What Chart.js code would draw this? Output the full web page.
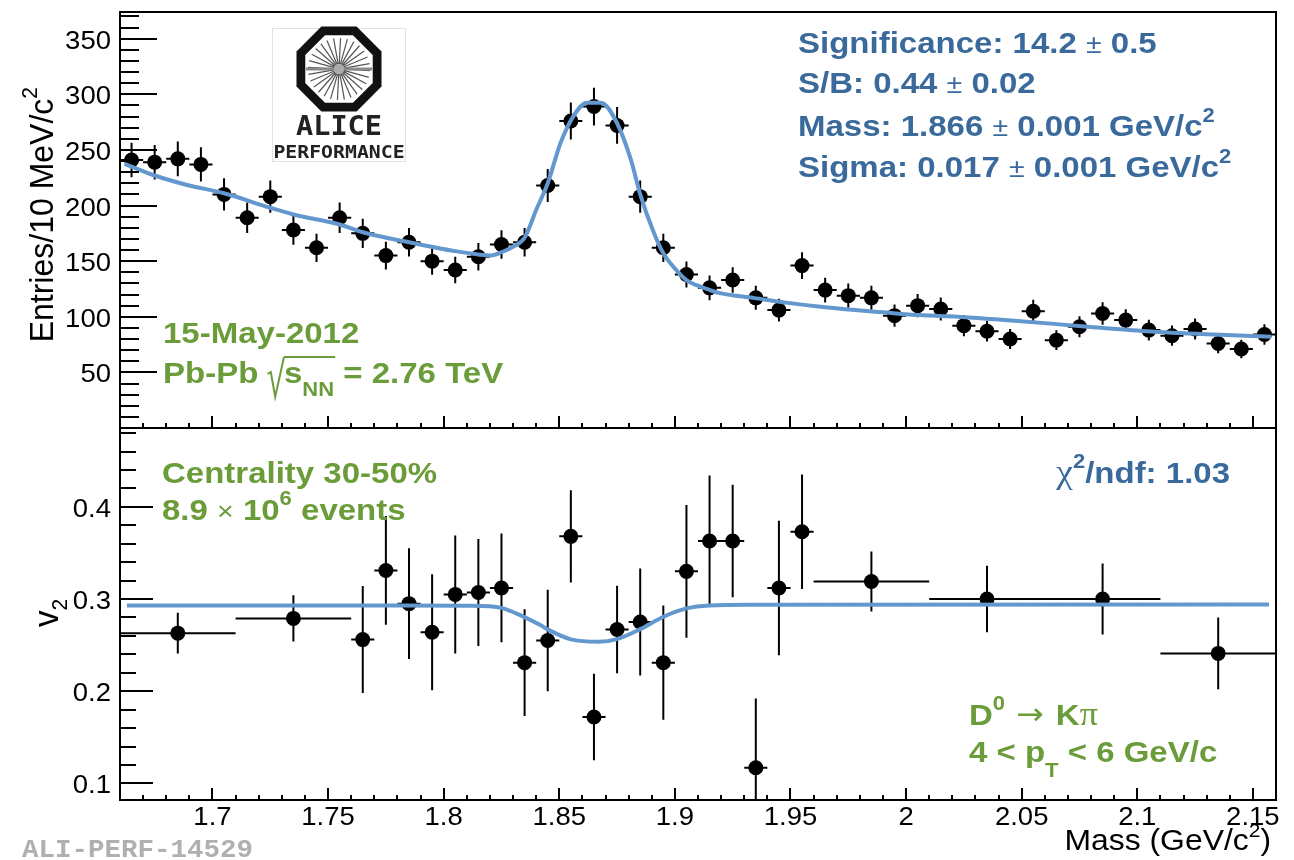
<!DOCTYPE html>
<html lang="en">
<head>
  <meta charset="UTF-8" />
  <title>D0 invariant mass and v2</title>
  <script src="https://cdn.jsdelivr.net/npm/chart.js"></script>
  <style>
    html, body { margin: 0; padding: 0; background: #fff; }
    #wrap { position: relative; width: 1294px; height: 860px; }
    #wrap canvas { position: absolute; left: 0; top: 0; }
  </style>
</head>
<body>
  <div id="wrap">
    <canvas id="cMass" width="1294" height="860"></canvas>
    <canvas id="cV2" width="1294" height="860"></canvas>
  </div>

  <script>
    // ---- upper panel: invariant mass, 10 MeV bins ----
    const massBins = [1.665, 1.675, 1.685, 1.695, 1.705, 1.715, 1.725, 1.735, 1.745, 1.755,
                      1.765, 1.775, 1.785, 1.795, 1.805, 1.815, 1.825, 1.835, 1.845, 1.855,
                      1.865, 1.875, 1.885, 1.895, 1.905, 1.915, 1.925, 1.935, 1.945, 1.955,
                      1.965, 1.975, 1.985, 1.995, 2.005, 2.015, 2.025, 2.035, 2.045, 2.055,
                      2.065, 2.075, 2.085, 2.095, 2.105, 2.115, 2.125, 2.135, 2.145, 2.155];
    const entries = [241, 239, 242, 237, 210, 189, 208, 178, 162, 189,
                     175, 155, 167, 150, 142, 154, 165, 167, 218, 276,
                     289, 272, 208, 162, 138, 126, 133, 117, 106, 146,
                     124, 119, 117, 101, 110, 107, 92, 87, 80, 105,
                     79, 91, 103, 97, 88, 83, 89, 76, 71, 84];
    const entriesErr = [15.5, 15.5, 15.6, 15.4, 14.5, 13.7, 14.4, 13.3, 12.7, 13.7,
                        13.2, 12.4, 12.9, 12.2, 11.9, 12.4, 12.8, 12.9, 14.8, 16.6,
                        17.0, 16.5, 14.4, 12.7, 11.7, 11.2, 11.5, 10.8, 10.3, 12.1,
                        11.1, 10.9, 10.8, 10.0, 10.5, 10.3, 9.6, 9.3, 8.9, 10.2,
                        8.9, 9.5, 10.1, 9.8, 9.4, 9.1, 9.4, 8.7, 8.4, 9.2];
    const massHalfWidth = 0.005;

    // fitted signal + background curve
    const fitMass = [1.662, 1.675, 1.689, 1.705, 1.725, 1.735, 1.755, 1.765, 1.785, 1.805,
                     1.815, 1.820, 1.825, 1.830, 1.835, 1.840, 1.845, 1.8505, 1.856, 1.862,
                     1.868, 1.875, 1.881, 1.885, 1.891, 1.895, 1.901, 1.905, 1.9125, 1.920,
                     1.934, 1.949, 1.963, 1.978, 1.990, 2.006, 2.018, 2.047, 2.076, 2.104,
                     2.133, 2.158];
    const fitEntries = [237.5, 227, 218.5, 211, 198, 192, 183, 176, 167, 159,
                        156, 155, 158, 163, 171, 196, 220, 256, 280, 292.5,
                        292.5, 274, 241, 210, 175, 157, 141, 133, 126, 121,
                        117, 112.5, 109, 106, 104, 101.5, 100.5, 96.5, 91.5, 87,
                        84, 82];

    // ---- lower panel: v2 vs mass, variable bins ----
    const v2Mass = [1.685, 1.735, 1.765, 1.775, 1.785, 1.795, 1.805, 1.815, 1.825, 1.835,
                    1.845, 1.855, 1.865, 1.875, 1.885, 1.895, 1.905, 1.915, 1.925, 1.935,
                    1.945, 1.955, 1.985, 2.035, 2.085, 2.135];
    const v2HalfWidth = [0.025, 0.025, 0.005, 0.005, 0.005, 0.005, 0.005, 0.005, 0.005, 0.005,
                         0.005, 0.005, 0.005, 0.005, 0.005, 0.005, 0.005, 0.005, 0.005, 0.005,
                         0.005, 0.005, 0.025, 0.025, 0.025, 0.025];
    const v2Val = [0.263, 0.279, 0.256, 0.331, 0.295, 0.264, 0.305, 0.307, 0.312, 0.231,
                   0.255, 0.368, 0.172, 0.267, 0.275, 0.231, 0.330, 0.363, 0.363, 0.117,
                   0.312, 0.373, 0.319, 0.300, 0.300, 0.241];
    const v2Err = [0.022, 0.025, 0.058, 0.059, 0.060, 0.063, 0.064, 0.058, 0.059, 0.058,
                   0.055, 0.050, 0.047, 0.0475, 0.058, 0.062, 0.072, 0.071, 0.061, 0.075,
                   0.073, 0.062, 0.0325, 0.036, 0.0385, 0.039];

    const v2FitMass = [1.663, 1.780, 1.810, 1.820, 1.825, 1.8335, 1.8418, 1.845, 1.855, 1.867,
                       1.875, 1.885, 1.895, 1.905, 1.915, 1.934, 2.157];
    const v2FitVal = [0.293, 0.293, 0.2928, 0.2922, 0.2904, 0.282, 0.2717, 0.267, 0.2562, 0.2536,
                      0.2565, 0.2673, 0.2807, 0.2898, 0.293, 0.2937, 0.294];

    // ---- axis ticks ----
    const massTicks = [1.7, 1.75, 1.8, 1.85, 1.9, 1.95, 2, 2.05, 2.1, 2.15];
    const massTickLabels = ['1.7', '1.75', '1.8', '1.85', '1.9', '1.95', '2', '2.05', '2.1', '2.15'];
    const entriesTicks = [50, 100, 150, 200, 250, 300, 350];
    const v2Ticks = [0.1, 0.2, 0.3, 0.4];
    const v2TickLabels = ['0.1', '0.2', '0.3', '0.4'];

    const BLUE_TXT = '#3a6a9c';
    const GREEN_TXT = '#6b9c3a';
    const FIT_BLUE = '#6398cf';
    const SANS = '"Liberation Sans", Arial, Helvetica, sans-serif';
    const SERIF = '"Liberation Serif", "DejaVu Serif", serif';
    const MONO = '"Liberation Mono", "Courier New", monospace';
    const ARROW = '"DejaVu Sans", sans-serif';
    const SX = 1.1; // text is a bit wide in this style

    function fontStr(s) {
      return (s.b ? 'bold ' : '') + s.size + 'px ' + (s.fam || SANS);
    }

    // draws a run of text pieces (sub/superscripts, symbols) on one baseline
    function drawRich(ctx, x, y, segs, opt) {
      opt = opt || {};
      ctx.save();
      ctx.translate(x, y);
      ctx.scale(opt.sx || SX, 1);
      if (opt.rot) ctx.rotate(-Math.PI / 2);
      let w = 0;
      segs.forEach(s => {
        if (s.rad) { w += s.rad; return; }
        if (s.gap) { w += s.gap; return; }
        ctx.font = fontStr(s);
        w += ctx.measureText(s.t).width;
      });
      let cx = opt.align === 'right' ? -w : opt.align === 'center' ? -w / 2 : 0;
      ctx.fillStyle = opt.color || '#000';
      ctx.strokeStyle = opt.color || '#000';
      ctx.textBaseline = 'alphabetic';
      ctx.textAlign = 'left';
      let overStart = null, overEnd = null;
      segs.forEach(s => {
        if (s.gap) { cx += s.gap; return; }
        if (s.rad) {
          ctx.lineWidth = 1.8;
          ctx.beginPath();
          ctx.moveTo(cx, -9);
          ctx.lineTo(cx + 3, -11);
          ctx.lineTo(cx + 7, 14);
          ctx.lineTo(cx + s.rad, -26);
          ctx.stroke();
          overStart = cx + s.rad;
          cx += s.rad;
          return;
        }
        ctx.font = fontStr(s);
        ctx.fillText(s.t, cx, s.dy || 0);
        const adv = ctx.measureText(s.t).width;
        if (s.over) overEnd = cx + adv;
        cx += adv;
      });
      if (overStart !== null && overEnd !== null) {
        ctx.lineWidth = 1.8;
        ctx.beginPath();
        ctx.moveTo(overStart, -26);
        ctx.lineTo(overEnd + 1, -26);
        ctx.stroke();
      }
      ctx.restore();
    }

    function steps(from, to, step) {
      const out = [];
      for (let k = Math.round(from / step); k * step <= to + 1e-9; k++) out.push(+(k * step).toFixed(4));
      return out;
    }

    function yTicks(ctx, scale, left, values, len) {
      ctx.beginPath();
      values.forEach(v => {
        const py = Math.round(scale.getPixelForValue(v));
        ctx.moveTo(left, py);
        ctx.lineTo(left + len, py);
      });
      ctx.stroke();
    }

    function xTicks(ctx, scale, base, values, len) {
      ctx.beginPath();
      values.forEach(v => {
        const px = Math.round(scale.getPixelForValue(v));
        ctx.moveTo(px, base);
        ctx.lineTo(px, base - len);
      });
      ctx.stroke();
    }

    function errorBars(xs, ys, exs, eys) {
      return {
        id: 'errorBars',
        beforeDatasetsDraw(chart) {
          const { ctx, chartArea: a, scales: { x, y } } = chart;
          ctx.save();
          ctx.beginPath();
          ctx.rect(a.left, a.top, a.right - a.left, a.bottom - a.top);
          ctx.clip();
          ctx.strokeStyle = '#000';
          ctx.lineWidth = 2;
          ctx.beginPath();
          xs.forEach((m, i) => {
            const hw = Array.isArray(exs) ? exs[i] : exs;
            const px = x.getPixelForValue(m);
            const py = y.getPixelForValue(ys[i]);
            ctx.moveTo(x.getPixelForValue(m - hw), py);
            ctx.lineTo(x.getPixelForValue(m + hw), py);
            ctx.moveTo(px, y.getPixelForValue(ys[i] - eys[i]));
            ctx.lineTo(px, y.getPixelForValue(ys[i] + eys[i]));
          });
          ctx.stroke();
          ctx.restore();
        }
      };
    }

    function drawLogo(ctx) {
      ctx.save();
      ctx.fillStyle = '#fff';
      ctx.strokeStyle = '#e2e2e2';
      ctx.lineWidth = 1;
      ctx.fillRect(272, 28, 133, 133);
      ctx.strokeRect(272.5, 28.5, 133, 133);

      const cx = 339, cy = 69;
      const octagon = r => {
        ctx.beginPath();
        for (let k = 0; k < 8; k++) {
          const ang = Math.PI / 8 + k * Math.PI / 4;
          const px = cx + r * Math.cos(ang), py = cy + r * Math.sin(ang);
          k ? ctx.lineTo(px, py) : ctx.moveTo(px, py);
        }
        ctx.closePath();
      };
      octagon(46);
      ctx.fillStyle = '#111';
      ctx.fill();
      octagon(36.5);
      ctx.fillStyle = '#fff';
      ctx.fill();

      // detector spokes
      ctx.strokeStyle = '#555';
      ctx.lineWidth = 1.2;
      ctx.beginPath();
      for (let k = 0; k < 28; k++) {
        const ang = k * Math.PI / 14 + 0.05;
        ctx.moveTo(cx + 5 * Math.cos(ang), cy + 5 * Math.sin(ang));
        ctx.lineTo(cx + 31 * Math.cos(ang), cy + 31 * Math.sin(ang));
      }
      ctx.stroke();
      ctx.strokeStyle = '#8a8a8a';
      ctx.lineWidth = 3;
      ctx.beginPath();
      ctx.moveTo(cx - 33, cy);
      ctx.lineTo(cx + 33, cy);
      ctx.stroke();
      ctx.fillStyle = '#aaa';
      ctx.beginPath();
      ctx.arc(cx, cy, 5, 0, 2 * Math.PI);
      ctx.fill();
      ctx.restore();

      drawRich(ctx, 339, 135, [{ t: 'ALICE', size: 26, b: 1, fam: '"DejaVu Sans Mono", monospace' }],
        { align: 'center', color: '#222' });
      drawRich(ctx, 339, 158, [{ t: 'PERFORMANCE', size: 18, b: 1, fam: '"DejaVu Sans Mono", monospace' }],
        { align: 'center', color: '#222' });
    }

    const massPanel = {
      id: 'massPanel',
      afterDraw(chart) {
        const { ctx, chartArea: a, scales: { x, y } } = chart;
        ctx.save();
        ctx.strokeStyle = '#000';
        ctx.lineWidth = 2;
        ctx.strokeRect(a.left, a.top, a.right - a.left, a.bottom - a.top);
        yTicks(ctx, y, a.left, entriesTicks, 37);
        yTicks(ctx, y, a.left, steps(10, 370, 10).filter(v => v % 50 !== 0), 19);
        xTicks(ctx, x, a.bottom, massTicks, 12);
        xTicks(ctx, x, a.bottom, steps(1.67, 2.15, 0.01), 5);
        ctx.restore();

        entriesTicks.forEach(v => {
          drawRich(ctx, 111, y.getPixelForValue(v) + 10, [{ t: String(v), size: 25 }], { align: 'right' });
        });
        drawRich(ctx, 53, 87, [{ t: 'Entries/10 MeV/c', size: 32 }, { t: '2', size: 21, dy: -15 }],
          { align: 'right', rot: true, sx: 1.05 });

        drawLogo(ctx);

        const pm = { t: '±', size: 26 };
        drawRich(ctx, 798, 53, [{ t: 'Significance: 14.2 ', size: 30, b: 1 }, pm, { t: ' 0.5', size: 30, b: 1 }],
          { color: BLUE_TXT });
        drawRich(ctx, 798, 93, [{ t: 'S/B: 0.44 ', size: 30, b: 1 }, pm, { t: ' 0.02', size: 30, b: 1 }],
          { color: BLUE_TXT });
        drawRich(ctx, 798, 136, [{ t: 'Mass: 1.866 ', size: 30, b: 1 }, pm, { t: ' 0.001 GeV/c', size: 30, b: 1 },
          { t: '2', size: 20, b: 1, dy: -14 }], { color: BLUE_TXT });
        drawRich(ctx, 798, 177, [{ t: 'Sigma: 0.017 ', size: 30, b: 1 }, pm, { t: ' 0.001 GeV/c', size: 30, b: 1 },
          { t: '2', size: 20, b: 1, dy: -14 }], { color: BLUE_TXT });

        drawRich(ctx, 163, 343, [{ t: '15-May-2012', size: 30, b: 1 }], { color: GREEN_TXT });
        drawRich(ctx, 163, 383, [{ t: 'Pb-Pb ', size: 30, b: 1 }, { rad: 15 },
          { t: 's', size: 30, b: 1, over: true }, { t: 'NN', size: 20, b: 1, dy: 13, over: true },
          { t: ' = 2.76 TeV', size: 30, b: 1 }], { color: GREEN_TXT });
      }
    };

    const v2Panel = {
      id: 'v2Panel',
      afterDraw(chart) {
        const { ctx, chartArea: a, scales: { x, y } } = chart;
        ctx.save();
        ctx.strokeStyle = '#000';
        ctx.lineWidth = 2;
        ctx.strokeRect(a.left, a.top, a.right - a.left, a.bottom - a.top);
        yTicks(ctx, y, a.left, v2Ticks, 33);
        yTicks(ctx, y, a.left, steps(0.1, 0.48, 0.02).filter(v => Math.abs(v * 10 - Math.round(v * 10)) > 1e-6), 16);
        xTicks(ctx, x, a.bottom, massTicks, 12);
        xTicks(ctx, x, a.bottom, steps(1.67, 2.15, 0.01), 5);
        ctx.restore();

        v2Ticks.forEach((v, i) => {
          drawRich(ctx, 111, y.getPixelForValue(v) + 10, [{ t: v2TickLabels[i], size: 25 }], { align: 'right' });
        });
        massTicks.forEach((v, i) => {
          drawRich(ctx, x.getPixelForValue(v), 825, [{ t: massTickLabels[i], size: 25 }], { align: 'center' });
        });
        drawRich(ctx, 58, 613, [{ t: 'v', size: 33 }, { t: '2', size: 21, dy: 9 }],
          { align: 'center', rot: true, sx: 1.05 });
        drawRich(ctx, 1271, 850, [{ t: 'Mass (GeV/c', size: 29 }, { t: '2', size: 19, dy: -13 }, { t: ')', size: 29 }],
          { align: 'right' });

        drawRich(ctx, 162, 483, [{ t: 'Centrality 30-50%', size: 30, b: 1 }], { color: GREEN_TXT });
        drawRich(ctx, 162, 520, [{ t: '8.9 ', size: 30, b: 1 }, { t: '×', size: 26 }, { t: ' 10', size: 30, b: 1 },
          { t: '6', size: 20, b: 1, dy: -15 }, { t: ' events', size: 30, b: 1 }], { color: GREEN_TXT });

        drawRich(ctx, 1230, 483, [{ t: 'χ', size: 34, fam: SERIF }, { t: '2', size: 20, b: 1, dy: -15 },
          { t: '/ndf: 1.03', size: 30, b: 1 }], { align: 'right', color: BLUE_TXT });

        drawRich(ctx, 969, 725, [{ t: 'D', size: 30, b: 1 }, { t: '0', size: 20, b: 1, dy: -15 },
          { gap: 10 }, { t: '→', size: 30, fam: ARROW, dy: -1 }, { gap: 11 },
          { t: 'K', size: 30, b: 1 }, { t: 'π', size: 33, fam: SERIF }],
          { color: GREEN_TXT });
        drawRich(ctx, 969, 762, [{ t: '4 < p', size: 30, b: 1 }, { t: 'T', size: 20, b: 1, dy: 15 },
          { t: ' < 6 GeV/c', size: 30, b: 1 }], { color: GREEN_TXT });

        drawRich(ctx, 22, 857, [{ t: 'ALI-PERF-14529', size: 25, b: 1, fam: MONO }], { color: '#b0b0b0' });
      }
    };

    function panelOptions(ymin, ymax, padding) {
      return {
        responsive: false,
        animation: false,
        devicePixelRatio: 1,
        layout: { padding: padding },
        plugins: { legend: { display: false }, tooltip: { enabled: false } },
        scales: {
          x: { type: 'linear', min: 1.66, max: 2.16, display: false },
          y: { type: 'linear', min: ymin, max: ymax, display: false }
        }
      };
    }

    new Chart(document.getElementById('cMass'), {
      type: 'scatter',
      data: {
        datasets: [
          {
            type: 'line',
            data: fitMass.map((m, i) => ({ x: m, y: fitEntries[i] })),
            borderColor: FIT_BLUE,
            borderWidth: 4,
            pointRadius: 0,
            cubicInterpolationMode: 'monotone',
            fill: false
          },
          {
            data: massBins.map((m, i) => ({ x: m, y: entries[i] })),
            pointRadius: 7.5,
            backgroundColor: '#000',
            borderWidth: 0
          }
        ]
      },
      options: panelOptions(0, 374, { left: 120, right: 18, top: 12, bottom: 432 }),
      plugins: [errorBars(massBins, entries, massHalfWidth, entriesErr), massPanel]
    });

    new Chart(document.getElementById('cV2'), {
      type: 'scatter',
      data: {
        datasets: [
          {
            type: 'line',
            data: v2FitMass.map((m, i) => ({ x: m, y: v2FitVal[i] })),
            borderColor: FIT_BLUE,
            borderWidth: 4,
            pointRadius: 0,
            cubicInterpolationMode: 'monotone',
            fill: false
          },
          {
            data: v2Mass.map((m, i) => ({ x: m, y: v2Val[i] })),
            pointRadius: 7.5,
            backgroundColor: '#000',
            borderWidth: 0
          }
        ]
      },
      options: panelOptions(0.082, 0.4855, { left: 120, right: 18, top: 428, bottom: 60 }),
      plugins: [errorBars(v2Mass, v2Val, v2HalfWidth, v2Err), v2Panel]
    });
  </script>
</body>
</html>
